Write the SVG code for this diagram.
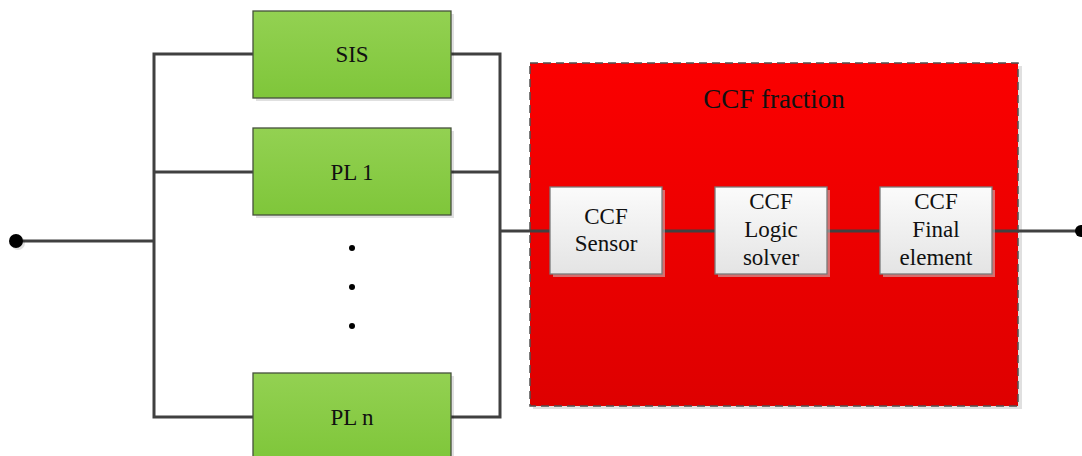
<svg xmlns="http://www.w3.org/2000/svg" width="1082" height="456" viewBox="0 0 1082 456">
<defs>
<linearGradient id="gGreen" x1="0" y1="0" x2="0" y2="1">
<stop offset="0" stop-color="#93d152"/>
<stop offset="1" stop-color="#7fc63a"/>
</linearGradient>
<linearGradient id="gRed" x1="0" y1="0" x2="0" y2="1">
<stop offset="0" stop-color="#fb0000"/>
<stop offset="1" stop-color="#de0000"/>
</linearGradient>
<linearGradient id="gWhite" x1="0" y1="0" x2="0" y2="1">
<stop offset="0" stop-color="#fbfbfb"/>
<stop offset="1" stop-color="#e4e4e4"/>
</linearGradient>
</defs>
<style>
.green{fill:url(#gGreen);stroke:#46503c;stroke-width:1.3}
.shadow{fill:#000;opacity:0.12}
.wbox{fill:url(#gWhite);stroke:#7a7a7a;stroke-width:1.3}
.wshadow{fill:#c8c8c8;opacity:0.55}
.lbl{font-family:"Liberation Serif","Times New Roman",serif;font-size:23px;fill:#111;text-anchor:middle}
.clbl{font-family:"Liberation Serif","Times New Roman",serif;font-size:23px;fill:#111;text-anchor:middle}
.wire{fill:none;stroke:#404040;stroke-width:3;stroke-linejoin:miter}
</style>
<rect width="1082" height="456" fill="#ffffff"/>

<g id="ccf-fraction">
<rect class="shadow" x="533" y="66" width="489" height="343"/>
<rect x="530" y="63" width="488" height="343" fill="url(#gRed)" stroke="#505050" stroke-width="1.5" stroke-dasharray="8,5"/>
<text class="clbl" x="774" y="108" style="font-size:27px">CCF fraction</text>
</g>

<g id="connectors">
<polyline class="wire" points="16,241 154,241"/>
<polyline class="wire" points="253,54 154,54 154,417 253,417"/>
<line class="wire" x1="154" y1="172" x2="253" y2="172"/>
<polyline class="wire" points="451,54 500,54 500,417 451,417"/>
<line class="wire" x1="451" y1="172" x2="500" y2="172"/>
<line class="wire" x1="500" y1="231" x2="550" y2="231"/>
<line class="wire" x1="662" y1="231" x2="715" y2="231"/>
<line class="wire" x1="827" y1="231" x2="880" y2="231"/>
<line class="wire" x1="992" y1="231" x2="1080" y2="231"/>
<circle cx="18" cy="243" r="7" fill="#000" opacity="0.12"/>
<circle cx="16" cy="241" r="7" fill="#000"/>
<circle cx="1081" cy="231" r="6" fill="#000"/>
</g>

<g id="sis">
<rect class="shadow" x="256" y="14" width="198" height="87"/>
<rect class="green" x="253" y="11" width="198" height="87"/>
<text class="lbl" x="352" y="62">SIS</text>
</g>

<g id="pl1">
<rect class="shadow" x="256" y="131" width="198" height="87"/>
<rect class="green" x="253" y="128" width="198" height="87"/>
<text class="lbl" x="352" y="180">PL 1</text>
</g>

<g id="ellipsis">
<circle cx="352" cy="248" r="3" fill="#000"/>
<circle cx="352" cy="287" r="3" fill="#000"/>
<circle cx="352" cy="326" r="3" fill="#000"/>
</g>

<g id="pln">
<rect class="shadow" x="256" y="376" width="198" height="87"/>
<rect class="green" x="253" y="373" width="198" height="87"/>
<text class="lbl" x="352" y="425">PL n</text>
</g>

<g id="ccf-sensor">
<rect class="wshadow" x="553" y="190" width="112" height="87"/>
<rect class="wbox" x="550" y="187" width="112" height="87"/>
<text class="clbl" x="606" y="224">CCF</text>
<text class="clbl" x="606" y="251">Sensor</text>
</g>

<g id="ccf-logic">
<rect class="wshadow" x="718" y="190" width="112" height="87"/>
<rect class="wbox" x="715" y="187" width="112" height="87"/>
<text class="clbl" x="771" y="209">CCF</text>
<text class="clbl" x="771" y="237">Logic</text>
<text class="clbl" x="771" y="265">solver</text>
</g>

<g id="ccf-final">
<rect class="wshadow" x="883" y="190" width="112" height="87"/>
<rect class="wbox" x="880" y="187" width="112" height="87"/>
<text class="clbl" x="936" y="209">CCF</text>
<text class="clbl" x="936" y="237">Final</text>
<text class="clbl" x="936" y="265">element</text>
</g>
</svg>
